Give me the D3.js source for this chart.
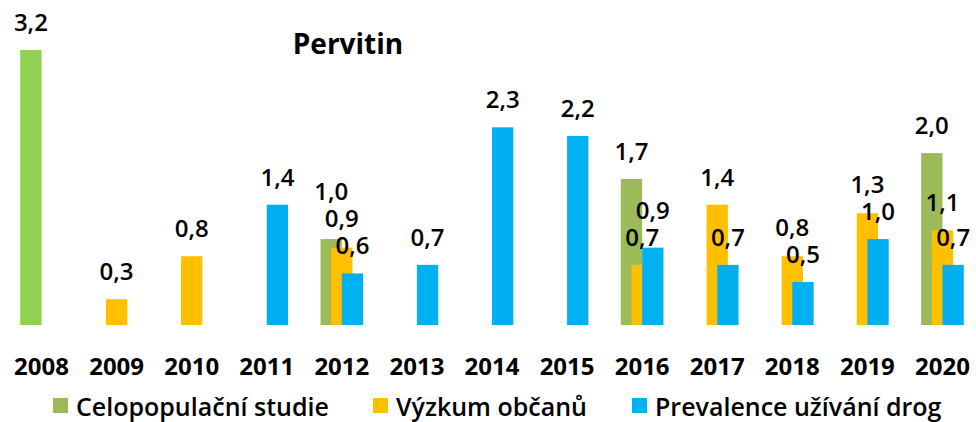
<!DOCTYPE html>
<html>
<head>
<meta charset="utf-8">
<script src="https://cdn.jsdelivr.net/npm/d3@7"></script>
<style>
  body { margin: 0; background: #fff; }
  svg text { font-family: "Open Sans", "Noto Sans", sans-serif; fill: #000; }
</style>
</head>
<body>
<div id="vis"></div>
<script>
// Data
const YEARS = ["2008", "2009", "2010", "2011", "2012", "2013", "2014",
  "2015", "2016", "2017", "2018", "2019", "2020"];
const SERIES = ["Celopopulační studie", "Výzkum občanů", "Prevalence užívání drog"];

const CELOPOPULACNI = [
  { year: "2008", value: 3.2 },
  { year: "2012", value: 1.0 },
  { year: "2016", value: 1.7 },
  { year: "2020", value: 2.0 },
];
const VYZKUM = [
  { year: "2009", value: 0.3 },
  { year: "2010", value: 0.8 },
  { year: "2012", value: 0.9 },
  { year: "2016", value: 0.7 },
  { year: "2017", value: 1.4 },
  { year: "2018", value: 0.8 },
  { year: "2019", value: 1.3 },
  { year: "2020", value: 1.1 },
];
const PREVALENCE = [
  { year: "2011", value: 1.4 },
  { year: "2012", value: 0.6 },
  { year: "2013", value: 0.7 },
  { year: "2014", value: 2.3 },
  { year: "2015", value: 2.2 },
  { year: "2016", value: 0.9 },
  { year: "2017", value: 0.7 },
  { year: "2018", value: 0.5 },
  { year: "2019", value: 1.0 },
  { year: "2020", value: 0.7 },
];

const COLORS = ["#9BBB59", "#FFC000", "#00B0F0"];
// 2008 bar has its own lighter green in the original
const COLOR_2008 = "#92D050";

const WIDTH = 976;
const HEIGHT = 422;

const SVG = d3.select("#vis").append("svg")
  .attr("width", WIDTH).attr("height", HEIGHT);

const x = d3.scaleBand().domain(YEARS).range([4, 980]);
const y = d3.scaleLinear().domain([0, 3.2]).range([325, 50]);

const barW = x.bandwidth() * 0.284;
const xSub = d3.scalePoint().domain(SERIES).range([-barW / 2, barW / 2]);

const all = [CELOPOPULACNI, VYZKUM, PREVALENCE].flatMap((arr, i) =>
  arr.map(d => ({ ...d, serie: SERIES[i], idx: i })));

const fmt = v => d3.format(".1f")(v).replace(".", ",");
const cx = d => x(d.year) + x.bandwidth() / 2 + xSub(d.serie);

// bars
SVG.append("g").selectAll("rect")
  .data(all)
  .join("rect")
  .attr("x", d => cx(d) - barW / 2)
  .attr("y", d => y(d.value))
  .attr("width", barW)
  .attr("height", d => y(0) - y(d.value))
  .attr("fill", d => d.year === "2008" && d.idx === 0 ? COLOR_2008 : COLORS[d.idx]);

// labels: baseline above bar, pushed up when they collide inside a year
const LINE = 27;
const labels = all.map(d => ({ ...d, ly: y(d.value) - 19 }));
d3.groups(labels, d => d.year).forEach(([, g]) => {
  g.sort((a, b) => b.ly - a.ly);
  for (let i = 1; i < g.length; i++) {
    const prev = g[i - 1];
    if (prev.ly - g[i].ly < LINE) g[i].ly = prev.ly - LINE;
  }
});

SVG.append("g").selectAll("text")
  .data(labels)
  .join("text")
  .attr("x", d => cx(d))
  .attr("y", d => d.ly)
  .attr("text-anchor", "middle")
  .attr("font-size", 24)
  .attr("font-weight", 600)
  .text(d => fmt(d.value));

// x axis labels
SVG.append("g").selectAll("text")
  .data(YEARS)
  .join("text")
  .attr("x", d => x(d) + x.bandwidth() / 2)
  .attr("y", 375)
  .attr("text-anchor", "middle")
  .attr("font-size", 24)
  .attr("font-weight", 700)
  .text(d => d);

// title
SVG.append("text")
  .attr("x", 348)
  .attr("y", 54)
  .attr("text-anchor", "middle")
  .attr("font-size", 28)
  .attr("font-weight", 700)
  .text("Pervitin");

// legend
const legendX = [53, 373, 632];
const legend = SVG.append("g").selectAll("g")
  .data(SERIES)
  .join("g")
  .attr("transform", (d, i) => `translate(${legendX[i]}, 398)`);

legend.append("rect")
  .attr("width", 15).attr("height", 15)
  .attr("fill", (d, i) => COLORS[i]);

legend.append("text")
  .attr("x", 23)
  .attr("y", 18)
  .attr("font-size", 25)
  .attr("font-weight", 600)
  .text(d => d);
</script>
</body>
</html>
